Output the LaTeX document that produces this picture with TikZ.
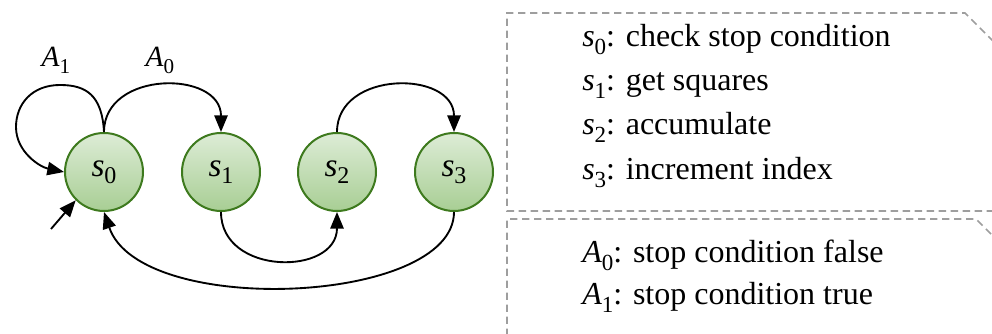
\documentclass[tikz,border=0pt]{standalone}
\usepackage{fontspec}
\setmainfont{LiberationSerif}[Extension=.ttf,UprightFont=*-Regular,ItalicFont=*-Italic,BoldFont=*-Bold,BoldItalicFont=*-BoldItalic]
\usepackage{graphicx}
\usetikzlibrary{arrows.meta}

% italic symbol with a lowered, smaller index
\newcommand\symidx[2]{\textit{#1}\raisebox{-0.22em}{\scalebox{0.72}{#2}}}

\definecolor{stateTop}{RGB}{221,236,214}
\definecolor{stateBot}{RGB}{168,206,148}
\definecolor{stateLine}{RGB}{62,122,30}
\definecolor{noteLine}{RGB}{158,158,158}

\begin{document}
\begin{tikzpicture}[x=0.75pt,y=-0.75pt,
  state/.style={circle,minimum size=78*0.75pt,inner sep=0pt,
    draw=stateLine,line width=1.5pt,top color=stateTop,bottom color=stateBot,
    font=\fontsize{25}{29}\selectfont},
  trans/.style={line width=1.4pt,-{Triangle[length=12.5pt,width=10pt]}},
  edgelabel/.style={font=\fontsize{22}{26}\selectfont,anchor=base,inner sep=0pt},
  legend/.style={font=\fontsize{24}{28}\selectfont,anchor=base west,inner sep=0pt},
  note/.style={draw=noteLine,line width=1.2pt,dash pattern=on 5.5pt off 3.5pt}]
\useasboundingbox (0,0) rectangle (992,334);
\begin{scope}
\clip (0,0) rectangle (992,334);

% legend notes with folded corners
\draw[note] (1030,211) -- (507,211) -- (507,13) -- (965,13) -- (1010,58);
\draw[note] (507,360) -- (507,219) -- (976,219) -- (1020,263);

% states
\node[state] (s0) at (104,172) {\symidx{s}{0}};
\node[state] (s1) at (221,172) {\symidx{s}{1}};
\node[state] (s2) at (337,172) {\symidx{s}{2}};
\node[state] (s3) at (454,172) {\symidx{s}{3}};

% transitions
\draw[trans] (s0.north) .. controls (102,95) and (86,85) .. (60,85)
  .. controls (32,85) and (16,104) .. (16,127)
  .. controls (16,152) and (40,167) .. (s0.west);
\draw[trans] (s0.north) .. controls (104,70) and (221,70) .. (s1.north);
\draw[trans] (s1.south) .. controls (221,276) and (337,276) .. (s2.south);
\draw[trans] (s2.north) .. controls (337,70) and (454,70) .. (s3.north);
\draw[trans] (s3.south) .. controls (454,305) and (140,318) .. (s0.south);

% initial state marker
\coordinate (init) at (51,229);
\draw[trans] (init) -- (s0.south west);

% edge labels
\node[edgelabel] (la1) at (56,67) {\symidx{A}{1}};
\node[edgelabel] (la0) at (160,67) {\symidx{A}{0}};

% legend text
\node[legend] (t0) at (582,47) {\symidx{s}{0}: check stop condition};
\node[legend] (t1) at (582,91) {\symidx{s}{1}: get squares};
\node[legend] (t2) at (582,135) {\symidx{s}{2}: accumulate};
\node[legend] (t3) at (582,180) {\symidx{s}{3}: increment index};
\node[legend] (t4) at (582,263) {\symidx{A}{0}: stop condition false};
\node[legend] (t5) at (582,305) {\symidx{A}{1}: stop condition true};
\end{scope}
\end{tikzpicture}
\end{document}
